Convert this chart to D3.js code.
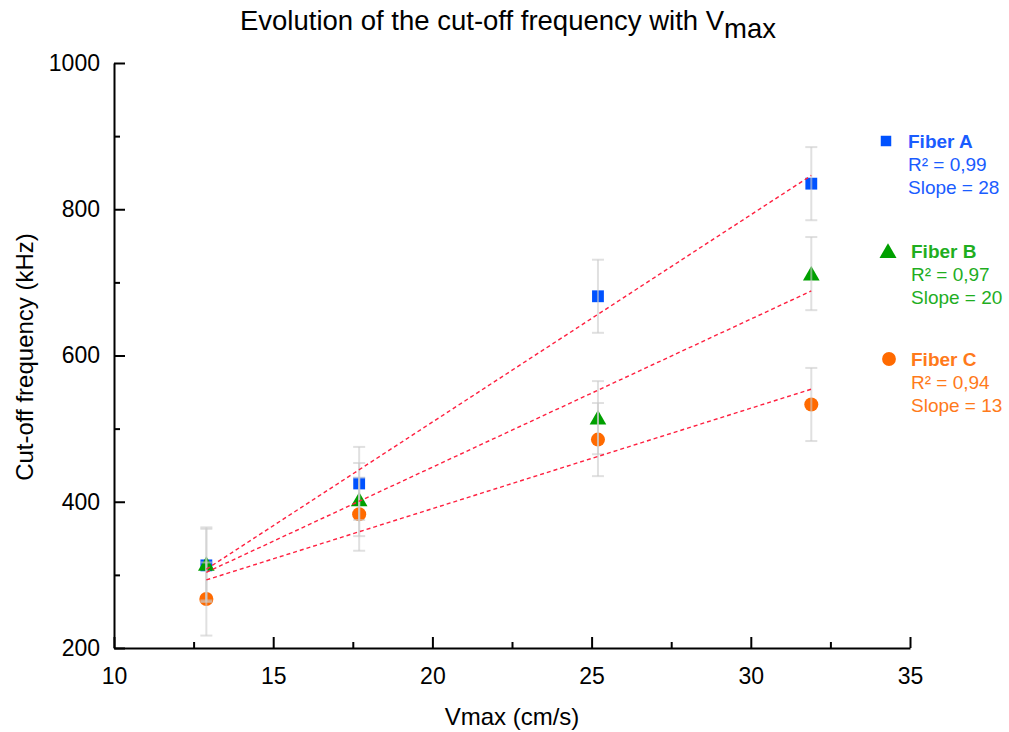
<!DOCTYPE html>
<meta charset="utf-8">
<html>
  <head>
    <title>Cut-off frequency vs Vmax</title>
    <style>
      body { margin: 0; background: #fff; }
      text { font-family: "Liberation Sans", Arial, sans-serif; fill: #000; }
      .tick-label { font-size: 23px; }
      .axis-title { font-size: 24px; }
      .legend text { font-size: 19px; }
    </style>
    <script src="https://cdn.jsdelivr.net/npm/d3@7"></script>
  </head>
  <body>
    <div id="chart"></div>
    <script>
    // data
    var vmax = [12.9, 17.7, 25.2, 31.9];
    var fiberA = [313, 425, 681, 835];
    var fiberB = [315, 403, 515, 712];
    var fiberC = [267, 383, 485, 533];
    var errA = [50, 50, 50, 50];
    var errB = [50, 50, 50, 50];
    var errC = [50, 50, 50, 50];

    var seriesNames = ["Fiber A", "Fiber B", "Fiber C"];
    var r2Labels = ["R\u00b2 = 0,99", "R\u00b2 = 0,97", "R\u00b2 = 0,94"];
    var slopeLabels = ["Slope = 28", "Slope = 20", "Slope = 13"];
    var xTicks = [10, 15, 20, 25, 30, 35];
    var yTicks = [200, 400, 600, 800, 1000];

    var markerColors = ["#0052ff", "#00a000", "#ff6a00"];
    var textColors = ["#1a5cff", "#1fae1f", "#ff7a1a"];
    var symbols = [d3.symbolSquare, d3.symbolTriangle, d3.symbolCircle];
    var symbolSizes = [140, 120, 155];

    var series = [fiberA, fiberB, fiberC].map(function(vals, k) {
      var errs = [errA, errB, errC][k];
      return vmax.map(function(x, i) { return { x: x, y: vals[i], e: errs[i], k: k }; });
    });

    var width = 1009, height = 732;
    var x = d3.scaleLinear().domain([10, 35]).range([114, 910]);
    var y = d3.scaleLinear().domain([200, 1000]).range([648, 63]);

    var svg = d3.select("#chart").append("svg")
      .attr("width", width)
      .attr("height", height);

    // title
    var title = svg.append("text")
      .attr("x", 508)
      .attr("y", 30)
      .attr("text-anchor", "middle")
      .style("font-size", "27.5px")
      .text("Evolution of the cut-off frequency with V");
    title.append("tspan").attr("dy", 8).text("max");

    // axes - ticks pointing inward
    var xAxis = svg.append("g")
      .attr("transform", "translate(0," + y(200) + ")")
      .call(d3.axisBottom(x).tickValues(xTicks).tickSizeInner(-11).tickSizeOuter(0).tickPadding(20));
    var xMinor = svg.append("g")
      .attr("transform", "translate(0," + y(200) + ")")
      .call(d3.axisBottom(x).tickValues(d3.range(12.5, 35, 5)).tickSize(-6).tickFormat(""));

    var yAxis = svg.append("g")
      .attr("transform", "translate(" + x(10) + ",0)")
      .call(d3.axisLeft(y).tickValues(yTicks).tickFormat(d3.format("d")).tickSizeInner(-11).tickSizeOuter(0).tickPadding(14));
    var yMinor = svg.append("g")
      .attr("transform", "translate(" + x(10) + ",0)")
      .call(d3.axisLeft(y).tickValues(d3.range(300, 1000, 200)).tickSize(-6).tickFormat(""));

    [xAxis, xMinor, yAxis, yMinor].forEach(function(g) {
      g.selectAll("path.domain").attr("stroke", "#000").attr("stroke-width", 2);
      g.selectAll(".tick line").attr("stroke", "#000").attr("stroke-width", 2);
      g.selectAll(".tick text").attr("class", "tick-label").attr("font-family", null).attr("font-size", null);
    });
    xMinor.select("path.domain").remove();
    yMinor.select("path.domain").remove();

    svg.append("text")
      .attr("class", "axis-title")
      .attr("x", 512)
      .attr("y", 725)
      .attr("text-anchor", "middle")
      .text("Vmax (cm/s)");

    svg.append("text")
      .attr("class", "axis-title")
      .attr("transform", "translate(33,357) rotate(-90)")
      .attr("text-anchor", "middle")
      .text("Cut-off frequency (kHz)");

    // markers
    series.forEach(function(pts, k) {
      svg.selectAll(".pt" + k)
        .data(pts)
        .enter()
        .append("path")
        .attr("d", d3.symbol().type(symbols[k]).size(symbolSizes[k]))
        .attr("transform", function(d) {
          var dy = k == 1 ? 2 : 0;
          return "translate(" + x(d.x) + "," + (y(d.y) + dy) + ")";
        })
        .attr("fill", markerColors[k]);
    });

    // error bars, drawn over the markers
    var allPts = d3.merge(series);
    var eb = svg.append("g")
      .attr("stroke", "#cccccc")
      .attr("stroke-opacity", 0.6)
      .attr("stroke-width", 2)
      .attr("fill", "none");
    allPts.forEach(function(d) {
      var cx = x(d.x);
      eb.append("line").attr("x1", cx).attr("x2", cx).attr("y1", y(d.y + d.e)).attr("y2", y(d.y - d.e));
      eb.append("line").attr("x1", cx - 6).attr("x2", cx + 6).attr("y1", y(d.y + d.e)).attr("y2", y(d.y + d.e));
      eb.append("line").attr("x1", cx - 6).attr("x2", cx + 6).attr("y1", y(d.y - d.e)).attr("y2", y(d.y - d.e));
    });

    // linear fits (least squares on the data)
    series.forEach(function(pts) {
      var mx = d3.mean(pts, function(d) { return d.x; });
      var my = d3.mean(pts, function(d) { return d.y; });
      var sxy = d3.sum(pts, function(d) { return (d.x - mx) * (d.y - my); });
      var sxx = d3.sum(pts, function(d) { return (d.x - mx) * (d.x - mx); });
      var b = sxy / sxx, a = my - b * mx;
      var ends = d3.extent(pts, function(d) { return d.x; });
      svg.append("line")
        .attr("x1", x(ends[0])).attr("y1", y(a + b * ends[0]))
        .attr("x2", x(ends[1])).attr("y2", y(a + b * ends[1]))
        .attr("stroke", "#ff2040")
        .attr("stroke-width", 1.4)
        .attr("stroke-dasharray", "4,3");
    });

    // legend
    var legendY = [141, 251, 359];
    var legend = svg.selectAll(".legend")
      .data(seriesNames)
      .enter()
      .append("g")
      .attr("class", "legend")
      .attr("transform", function(d, i) { return "translate(0," + legendY[i] + ")"; });

    legend.append("path")
      .attr("d", function(d, i) { return d3.symbol().type(symbols[i]).size([110, 125, 150][i])(); })
      .attr("transform", function(d, i) { return "translate(" + [886, 888, 889][i] + "," + (i == 1 ? 2 : 0) + ")"; })
      .attr("fill", function(d, i) { return markerColors[i]; });

    legend.append("text")
      .attr("x", function(d, i) { return i == 0 ? 908 : 911; })
      .attr("y", 7)
      .style("font-weight", "bold")
      .style("fill", function(d, i) { return textColors[i]; })
      .text(function(d) { return d; });

    legend.append("text")
      .attr("x", function(d, i) { return i == 0 ? 908 : 911; })
      .attr("y", 30)
      .style("fill", function(d, i) { return textColors[i]; })
      .text(function(d, i) { return r2Labels[i]; });

    legend.append("text")
      .attr("x", function(d, i) { return i == 0 ? 908 : 911; })
      .attr("y", 53)
      .style("fill", function(d, i) { return textColors[i]; })
      .text(function(d, i) { return slopeLabels[i]; });
    </script>
  </body>
</html>
